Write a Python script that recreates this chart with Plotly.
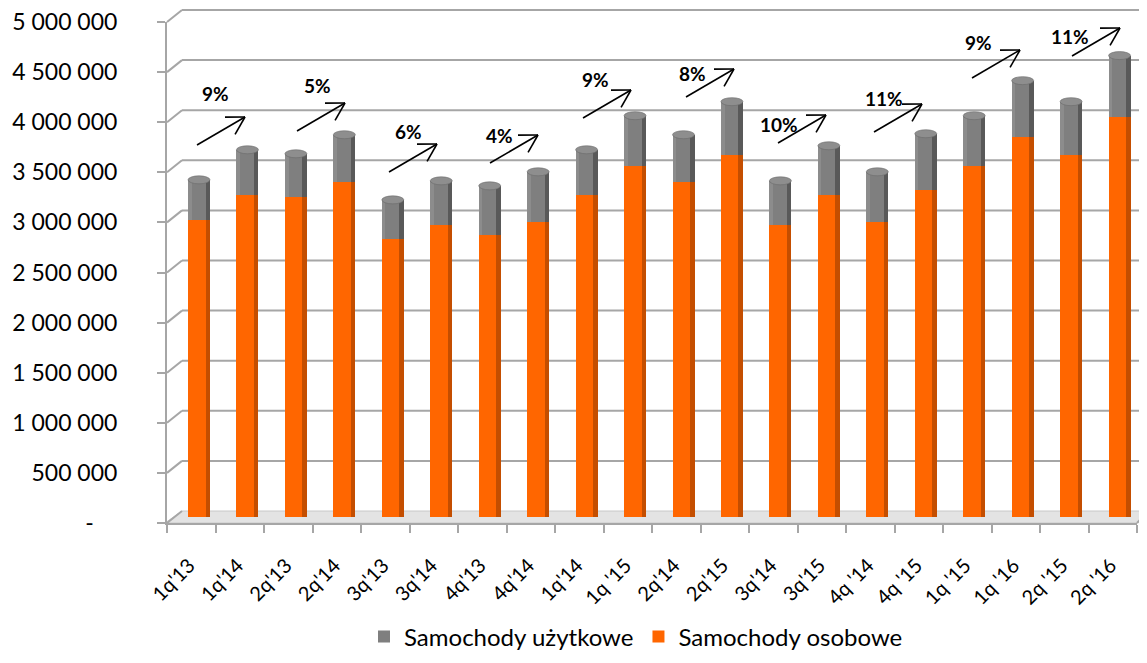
import math
import plotly.graph_objects as go

# ---------------- data ----------------
categories = ["1q'13", "1q'14", "2q'13", "2q'14", "3q'13", "3q'14", "4q'13", "4q'14",
              "1q'14", "1q '15", "2q'14", "2q'15", "3q'14", "3q'15", "4q '14", "4q '15",
              "1q '15", "1q '16", "2q '15", "2q '16"]
osobowe = [2960000, 3210000, 3190000, 3340000, 2770000, 2910000, 2810000, 2940000,
           3210000, 3500000, 3340000, 3610000, 2910000, 3210000, 2940000, 3260000,
           3500000, 3790000, 3610000, 3990000]
uzytkowe = [400000, 450000, 430000, 470000, 390000, 440000, 490000, 500000,
            450000, 500000, 470000, 530000, 440000, 490000, 500000, 560000,
            500000, 560000, 530000, 610000]
growth_labels = ["9%", "5%", "6%", "4%", "9%", "8%", "10%", "11%", "9%", "11%"]
y_ticks = [0, 500000, 1000000, 1500000, 2000000, 2500000, 3000000, 3500000, 4000000, 4500000, 5000000]

# ---------------- layout geometry (window pixels) ----------------
WIN_W, WIN_H = 1147, 663
OFF = 8                      # default page body margin
W, H = WIN_W - OFF, WIN_H - OFF
FONT = "Lato"
def px(x): return (x - OFF) / W
def py(y): return 1 - (y - OFF) / H

# bar plane (mid depth)
bar_x0, bar_step = 199.0, 48.45
bar_base, k = 516.5, 100.2e-6          # px of value 0, px per unit
# front axes
front_left, front_right, front_bottom, front_top = 167, 1137, 523, 22
depth_dx, depth_dy = 15, -12

n = len(categories)
idx = list(range(n))
totals = [a + b for a, b in zip(osobowe, uzytkowe)]

fig = go.Figure()

bw = 22 / bar_step
edge = 4.5 / bar_step
# main bars
fig.add_trace(go.Bar(x=idx, y=osobowe, base=[0] * n, width=bw, name="Samochody osobowe",
                     marker=dict(color="#FF6600", line=dict(width=0)), legendrank=2))
fig.add_trace(go.Bar(x=idx, y=uzytkowe, base=osobowe, width=bw, name="Samochody użytkowe",
                     marker=dict(color="#7F7F7F", line=dict(width=0)), legendrank=1))
# shaded right edges (cylinder look)
fig.add_trace(go.Bar(x=idx, y=osobowe, base=[0] * n, width=edge, offset=bw / 2 - edge,
                     marker=dict(color="#C44E00", line=dict(width=0)), showlegend=False, hoverinfo="skip"))
fig.add_trace(go.Bar(x=idx, y=uzytkowe, base=osobowe, width=edge, offset=bw / 2 - edge,
                     marker=dict(color="#595959", line=dict(width=0)), showlegend=False, hoverinfo="skip"))
# left highlight
fig.add_trace(go.Bar(x=idx, y=uzytkowe, base=osobowe, width=edge * 0.8, offset=-bw / 2,
                     marker=dict(color="#8C8C8C", line=dict(width=0)), showlegend=False, hoverinfo="skip"))

# front axes holder trace
fig.add_trace(go.Scatter(x=[None], y=[None], xaxis="x2", yaxis="y2", showlegend=False, hoverinfo="skip"))

shapes = []
grid_col = "#A6A6A6"
# floor
shapes.append(dict(type="path", xref="paper", yref="paper", layer="below",
                   path=f"M {px(front_left-2)},{py(front_bottom)} L {px(front_right)},{py(front_bottom)} "
                        f"L {px(front_right+depth_dx-3)},{py(front_bottom+depth_dy)} L {px(front_left+depth_dx)},{py(front_bottom+depth_dy)} Z",
                   fillcolor="#E3E3E3", line=dict(color="#C8C8C8", width=1)))
# back wall gridlines + side diagonals
kf = (front_bottom - front_top) / 5000000
for v in y_ticks:
    yf = front_bottom - v * kf
    yb = yf + depth_dy
    shapes.append(dict(type="line", xref="paper", yref="paper", layer="below",
                       x0=px(front_left), y0=py(yf), x1=px(front_left + depth_dx), y1=py(yb),
                       line=dict(color=grid_col, width=2)))
    if v > 0:
        shapes.append(dict(type="line", xref="paper", yref="paper", layer="below",
                           x0=px(front_left + depth_dx), y0=py(yb), x1=1, y1=py(yb),
                           line=dict(color=grid_col, width=2)))
# right floor edge
shapes.append(dict(type="line", xref="paper", yref="paper", layer="below",
                   x0=px(front_right), y0=py(front_bottom), x1=px(front_right + 12), y1=py(front_bottom + depth_dy),
                   line=dict(color=grid_col, width=2)))

# bar top caps
cap = 4 / k
for i in idx:
    shapes.append(dict(type="circle", xref="x", yref="y", layer="above",
                       x0=i - bw / 2, x1=i + bw / 2, y0=totals[i] - cap, y1=totals[i] + cap,
                       fillcolor="#8E8E8E", line=dict(color="#6A6A6A", width=0.6)))

# growth arrows (window pixel positions)
arrow_start = [(197, 145), (297, 131), (389, 172), (490, 163), (583, 118),
               (686, 97), (778, 143), (874, 132), (972, 78), (1072, 56)]
label_pos = [(215, 94), (317, 86), (409, 131), (499, 135), (596, 80),
             (692, 73), (779, 124), (884, 98), (978, 42), (1070, 36)]
adx, ady = 48, -28
ang = math.atan2(-ady, adx)
annotations = []
for (sx, sy), (lx, ly), lab in zip(arrow_start, label_pos, growth_labels):
    tx, ty = sx + adx, sy + ady
    shapes.append(dict(type="line", xref="paper", yref="paper", x0=px(sx), y0=py(sy), x1=px(tx), y1=py(ty),
                       line=dict(color="black", width=1.6)))
    for d in (-math.pi / 6, math.pi / 6):
        a = ang + math.pi + d
        ex, ey = tx + 20 * math.cos(a), ty - 20 * math.sin(a)
        shapes.append(dict(type="line", xref="paper", yref="paper", x0=px(tx), y0=py(ty), x1=px(ex), y1=py(ey),
                           line=dict(color="black", width=1.6)))
    annotations.append(dict(x=px(lx), y=py(ly), xref="paper", yref="paper", text=f"<b>{lab}</b>",
                            showarrow=False, font=dict(family=FONT, size=19, color="black"),
                            xanchor="center", yanchor="middle"))

nb = "\u00a0"
y_text = ["-" + nb * 4] + [f"{v:,}".replace(",", " ") for v in y_ticks[1:]]

fig.update_layout(
    width=W, height=H, autosize=False,
    margin=dict(l=0, r=0, t=0, b=0, autoexpand=False),
    paper_bgcolor="white", plot_bgcolor="rgba(0,0,0,0)",
    barmode="overlay", bargap=0,
    font=dict(family=FONT, color="black"),
    xaxis=dict(domain=[0, 1], range=[(OFF - bar_x0) / bar_step, (WIN_W - bar_x0) / bar_step], visible=False,
               fixedrange=True, automargin=False),
    yaxis=dict(domain=[0, 1], range=[-(WIN_H - bar_base) / k, (bar_base - OFF) / k], visible=False,
               fixedrange=True, automargin=False),
    xaxis2=dict(domain=[px(front_left), px(front_right)], range=[-0.5, n - 0.5], anchor="y2",
                tickmode="array", tickvals=idx, ticktext=categories, ticks="", tickangle=-45,
                ticklabelshift=-2, ticklabelstandoff=21, automargin=False, ticklabeloverflow="allow",
                tickfont=dict(family=FONT, size=20, color="black"),
                minor=dict(tickmode="array", tickvals=[i - 0.5 for i in range(n + 1)], ticks="outside",
                           ticklen=8, tickcolor=grid_col, tickwidth=2, showgrid=False),
                showline=True, linecolor=grid_col, linewidth=2, showgrid=False, zeroline=False, fixedrange=True),
    yaxis2=dict(domain=[py(front_bottom), py(front_top)], range=[0, 5000000], anchor="x2",
                tickmode="array", tickvals=y_ticks, ticktext=y_text, ticks="outside", ticklen=8,
                tickcolor=grid_col, tickwidth=2, ticklabelstandoff=35, automargin=False,
                ticklabeloverflow="allow",
                tickfont=dict(family=FONT, size=23, color="black"),
                showline=True, linecolor=grid_col, linewidth=2, showgrid=False, zeroline=False, fixedrange=True),
    legend=dict(orientation="h", x=px(636), xanchor="center", y=py(637), yanchor="middle",
                font=dict(family=FONT, size=24, color="black"), itemwidth=30, traceorder="normal",
                bgcolor="rgba(0,0,0,0)"),
    shapes=shapes, annotations=annotations,
)

fig.write_html("out.html")
